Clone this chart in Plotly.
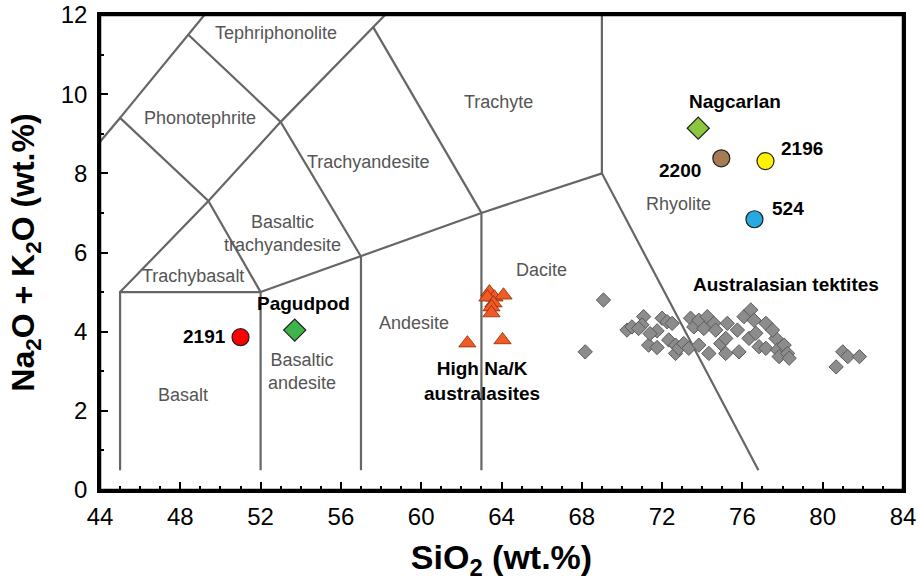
import plotly.graph_objects as go

# ---- TAS field boundaries (SiO2, Na2O+K2O) ----
boundary_segments = [
    [(45, 0.5), (45, 5), (52, 5), (52, 0.5)],
    [(52, 5), (57, 5.9), (63, 7), (69, 8), (76.8, 0.5)],
    [(57, 0.5), (57, 5.9)],
    [(63, 0.5), (63, 7)],
    [(69, 8), (69, 12)],
    [(45, 5), (49.4, 7.3), (53, 9.3), (57.6, 11.7), (58.2, 12.0)],
    [(52, 5), (49.4, 7.3), (45, 9.4), (41, 7)],
    [(45, 9.4), (48.4, 11.5), (49.2, 12.0)],
    [(48.4, 11.5), (53, 9.3), (57, 5.9)],
    [(57.6, 11.7), (63, 7)],
]

field_names = ["Tephriphonolite", "Phonotephrite", "Trachyte", "Trachyandesite",
               "Basaltic<br>trachyandesite", "Trachybasalt", "Rhyolite", "Dacite",
               "Andesite", "Basalt", "Basaltic<br>andesite"]
field_x = [52.75, 49.0, 63.85, 57.35, 53.1, 48.65, 72.8, 66.0, 59.65, 48.15, 54.05]
field_y = [11.54, 9.39, 9.8, 8.28, 6.49, 5.4, 7.22, 5.56, 4.22, 2.4, 3.0]

# ---- Australasian tektites ----
tektite_sio2 = [69.08, 68.17, 70.25, 70.50, 71.08, 71.00, 70.83, 71.75, 71.33, 71.75,
                72.00, 72.25, 72.50, 72.33, 72.67, 72.67, 72.83, 73.08, 73.33, 73.42,
                73.58, 73.83, 73.83, 74.08, 74.25, 74.33, 74.58, 74.67, 74.92, 75.17,
                75.25, 75.17, 75.75, 75.83, 76.08, 76.42, 76.58, 76.33, 76.67, 76.83,
                77.17, 77.17, 77.67, 77.75, 77.83, 78.08, 78.25, 78.33, 81.00, 81.25,
                81.83, 80.67, 77.50, 71.40]
tektite_alk = [4.80, 3.49, 4.04, 4.12, 4.38, 4.17, 4.08, 4.02, 3.66, 3.60,
               4.34, 4.25, 4.21, 3.79, 3.66, 3.45, 3.58, 3.70, 3.58, 4.34,
               4.12, 4.29, 3.66, 4.08, 4.38, 3.45, 4.21, 4.04, 3.70, 3.83,
               4.21, 3.45, 4.04, 3.49, 4.38, 4.55, 4.29, 3.83, 3.96, 3.62,
               4.21, 3.58, 3.83, 3.54, 3.37, 3.66, 3.45, 3.33, 3.49, 3.37,
               3.37, 3.11, 4.04, 3.95]

# ---- High Na/K australasites ----
highnak_sio2 = [63.40, 63.65, 64.10, 63.30, 63.60, 63.50, 63.50, 62.30, 64.05]
highnak_alk = [5.00, 4.87, 4.92, 4.87, 4.72, 4.62, 4.47, 3.71, 3.79]

# ---- Individual samples ----
sample_names = ["Nagcarlan", "2200", "2196", "524", "2191", "Pagudpod"]
sample_sio2 = [73.8, 74.95, 77.15, 76.6, 51.0, 53.7]
sample_alk = [9.14, 8.38, 8.31, 6.84, 3.86, 4.04]
sample_symbol = ["diamond", "circle", "circle", "circle", "circle", "diamond"]
sample_color = ["#8dc63f", "#a57c52", "#fff200", "#27aae1", "#ff0000", "#3db54a"]

bold_labels = ["Nagcarlan", "2200", "2196", "524", "Australasian tektites", "2191",
               "Pagudpod", "High Na/K<br>australasites"]
bold_x = [75.65, 72.9, 78.95, 78.25, 78.15, 49.2, 54.15, 63.05]
bold_y = [9.82, 8.08, 8.62, 7.1, 5.2, 3.88, 4.72, 2.75]

fig = go.Figure()

bx, by = [], []
for seg in boundary_segments:
    for px, py in seg:
        bx.append(px)
        by.append(py)
    bx.append(None)
    by.append(None)
fig.add_trace(go.Scatter(x=bx, y=by, mode="lines",
                         line=dict(color="#666666", width=2.2),
                         hoverinfo="skip", showlegend=False))

fig.add_trace(go.Scatter(x=tektite_sio2, y=tektite_alk, mode="markers",
                         marker=dict(symbol="diamond", size=11, color="#8c8c8c",
                                     line=dict(color="#5a5a5a", width=1)),
                         showlegend=False))
fig.add_trace(go.Scatter(x=highnak_sio2, y=highnak_alk, mode="markers",
                         marker=dict(symbol="triangle-up", size=15, color="#f15a24",
                                     line=dict(color="#8a2a08", width=0.8)),
                         showlegend=False))
fig.add_trace(go.Scatter(x=sample_sio2, y=sample_alk, mode="markers",
                         marker=dict(symbol=sample_symbol, size=17, color=sample_color,
                                     line=dict(color="#222222", width=1.2)),
                         text=sample_names, showlegend=False))

for name, x, y in zip(field_names, field_x, field_y):
    fig.add_annotation(x=x, y=y, text=name, showarrow=False,
                       font=dict(family="Arial, Liberation Sans", size=18, color="#555555"))

for name, x, y in zip(bold_labels, bold_x, bold_y):
    fig.add_annotation(x=x, y=y, text="<b>" + name + "</b>", showarrow=False,
                       font=dict(family="Arial, Liberation Sans", size=19, color="#000000"))

# plot frame
fig.add_shape(type="rect", xref="paper", yref="paper", x0=0, x1=1, y0=0, y1=1,
              line=dict(color="#000000", width=2.5), layer="above")

axis_common = dict(showgrid=False, zeroline=False, showline=True, mirror=True,
                   linecolor="#000000", linewidth=2.5, ticks="inside", ticklen=8,
                   tickwidth=1.5, tickcolor="#000000", automargin=False,
                   ticklabeloverflow="allow",
                   tickfont=dict(family="Arial, Liberation Sans", size=24, color="#000000"))

fig.update_layout(
    width=920, height=581,
    margin=dict(l=100, r=17, t=15, b=91),
    paper_bgcolor="white", plot_bgcolor="white",
    xaxis=dict(range=[44, 84], dtick=4, tick0=44, ticklabelstandoff=3,
               minor=dict(dtick=1, ticks="inside", ticklen=4, tickcolor="#000000"),
               title=dict(text="<b>SiO<sub>2</sub> (wt.%)</b>", standoff=17,
                          font=dict(family="Arial, Liberation Sans", size=34, color="#000000")),
               **axis_common),
    yaxis=dict(range=[0, 12], dtick=2, tick0=0, ticklabelstandoff=5,
               minor=dict(dtick=1, ticks="inside", ticklen=4, tickcolor="#000000"),
               title=dict(text="<b>Na<sub>2</sub>O + K<sub>2</sub>O (wt.%)</b>", standoff=17,
                          font=dict(family="Arial, Liberation Sans", size=32, color="#000000")),
               **axis_common),
)

fig.write_html("out.html", config={"displayModeBar": False},
               post_script="document.body.style.margin='0';document.body.style.overflow='hidden';")
